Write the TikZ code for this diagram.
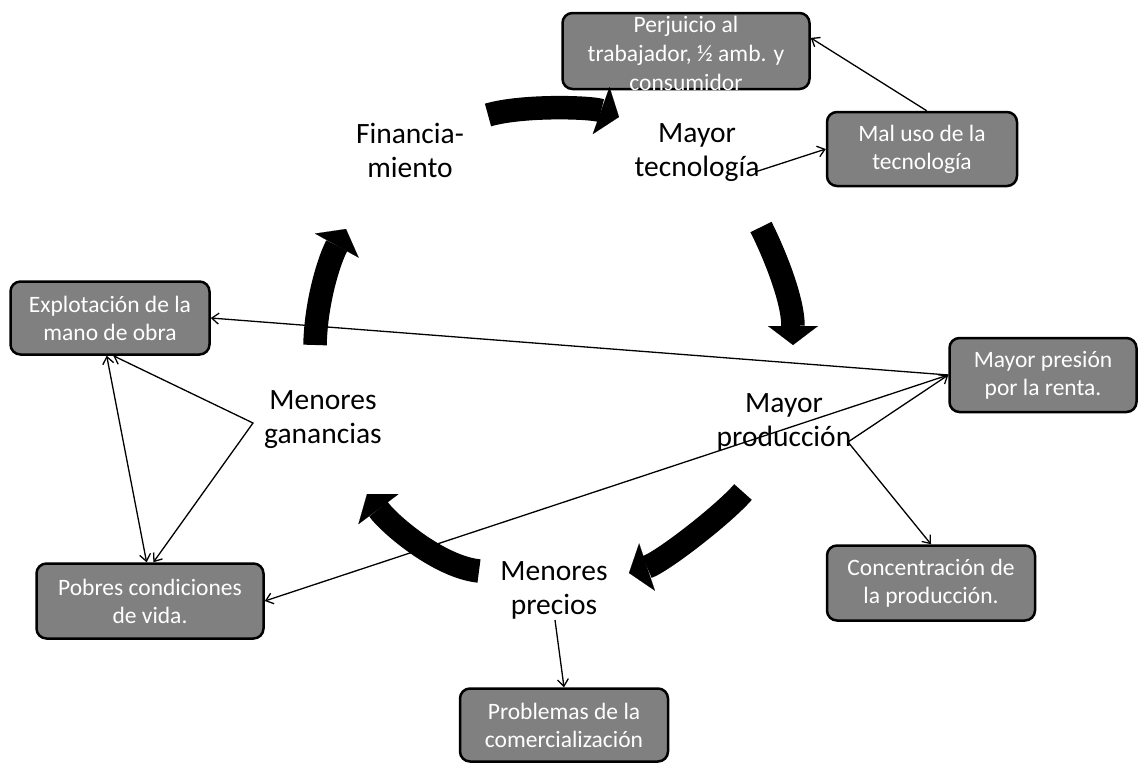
\documentclass[tikz,border=0pt]{standalone}
\usepackage{fontspec}
\setmainfont{Carlito}
\usetikzlibrary{arrows.meta}
\definecolor{boxgray}{RGB}{128,128,128}
\begin{document}
\begin{tikzpicture}[x=1pt,y=-1pt,
  box/.style={draw=black, fill=boxgray, rounded corners=10pt, line width=2.5pt, text=white, align=center, inner sep=0pt, font=\fontsize{23.5}{28}\selectfont},
  lbl/.style={align=center, inner sep=0pt, font=\fontsize{29.5}{34}\selectfont},
  bigarrow/.style={line width=23.5pt, -{Triangle[length=19pt,width=50pt,line width=0.1pt]}},
  thinline/.style={line width=1.3pt},
  >={Straight Barb[length=7pt,width=11pt]}
]
\useasboundingbox (0,0) rectangle (1139,763);

% boxes
\node[box, minimum width=247pt, minimum height=76pt] (perj) at (686,51) {};
\node[align=center, inner sep=0pt, text=white, font=\fontsize{23.5}{29}\selectfont] (perjtext) at (686,53) {Perjuicio al\\trabajador, ½ amb. y\\consumidor};
\node[box, minimum width=190pt, minimum height=74pt] (maluso) at (922,149) {Mal uso de la\\tecnología};
\node[box, minimum width=187pt, minimum height=74pt] (presion) at (1043,375) {Mayor presión\\por la renta.};
\node[box, minimum width=208pt, minimum height=75pt] (conc) at (931,583) {Concentración de\\la producción.};
\node[box, minimum width=208pt, minimum height=73pt] (prob) at (564,725) {Problemas de la\\comercialización};
\node[box, minimum width=227pt, minimum height=75pt] (pobres) at (150,601) {Pobres condiciones\\de vida.};
\node[box, minimum width=199pt, minimum height=73pt] (expl) at (110,318) {Explotación de la\\mano de obra};

% labels
\node[lbl] (fin) at (410,150) {Financia-\\miento};
\node[lbl] (tec) at (697,153) {Mayor\\tecnología};
\node[lbl] (prod) at (784,422) {Mayor\\producción};
\node[lbl] (prec) at (554,590) {Menores\\precios};
\node[lbl] (gan) at (323,420) {Menores\\ganancias};

% thick cycle arrows
\draw[bigarrow] (488,115) .. controls (522,105) and (591,107) .. (619,117);
\draw[bigarrow] (761,227) .. controls (775,255) and (793,300) .. (793,345);
\draw[bigarrow] (743,492) .. controls (723,515) and (662,562) .. (629,573);
\draw[bigarrow] (479,571) .. controls (440,567) and (391,526) .. (367,494);
\draw[bigarrow] (315,345) .. controls (316,300) and (330,258) .. (346,229);

% free ends
\coordinate (tecout) at (755,172);
\coordinate (prodout) at (848,442);
\coordinate (precout) at (555,620);
\coordinate (ganout) at (253,423);

% thin connectors
\draw[thinline,->] (maluso.83) -- (perj.6);
\draw[thinline,->] (tecout) -- (maluso.west);
\draw[thinline,->] (presion.west) -- (expl.east);
\draw[thinline,->] (presion.west) -- (pobres.east);
\draw[thinline,->] (prodout) -- (presion.west);
\draw[thinline,->] (prodout) -- (conc.north);
\draw[thinline,->] (precout) -- (prob.north);
\draw[thinline,<->] (expl.275) -- (ganout) -- (pobres.85);
\draw[thinline,<->] (expl.265) -- (pobres.95);
\end{tikzpicture}
\end{document}
